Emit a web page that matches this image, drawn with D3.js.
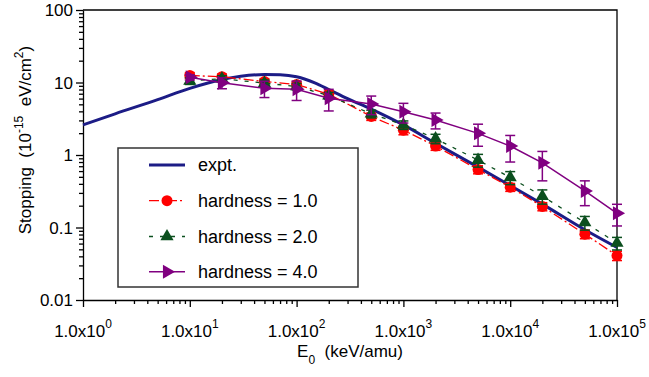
<!DOCTYPE html>
<html>
<head>
<meta charset="utf-8">
<script src="https://cdn.jsdelivr.net/npm/d3@7"></script>
<style>
body { margin: 0; background: #fff; }
text { font-family: "Liberation Sans", Arial, sans-serif; fill: #000; }
</style>
</head>
<body>
<script>
// data
var energies = [10, 20, 50, 100, 200, 500, 1000, 2000, 5000, 10000, 20000, 50000, 100000];
var hard1    = [12.5, 12.0, 10.3, 9.4, 6.9, 3.4, 2.2, 1.33, 0.63, 0.36, 0.195, 0.081, 0.041];
var hard1Err = [1.2, 1.1, 1.0, 0.9, 0.7, 0.4, 0.3, 0.17, 0.08, 0.045, 0.025, 0.011, 0.006];
var hard2    = [10.5, 11.3, 9.8, 8.8, 6.6, 3.7, 2.6, 1.68, 0.85, 0.49, 0.27, 0.117, 0.061];
var hard2Err = [1.1, 1.1, 1.0, 0.9, 0.7, 0.45, 0.35, 0.25, 0.17, 0.1, 0.06, 0.025, 0.012];
var hard4    = [11.8, 9.9, 8.3, 8.05, 6.05, 5.05, 3.96, 3.04, 1.99, 1.33, 0.78, 0.32, 0.157];
var hard4Err = [1.0, 1.7, 2.1, 2.4, 2.0, 1.45, 1.2, 0.75, 0.67, 0.53, 0.34, 0.12, 0.052];

var exptE = [1, 2, 5, 10, 20, 30, 50, 70, 100, 150, 200, 300, 500, 1000, 2000, 5000, 10000, 20000, 50000, 100000];
var exptS = [2.6, 3.7, 5.8, 8.3, 11.0, 12.2, 12.9, 12.8, 12.0, 9.8, 8.0, 6.0, 4.3, 2.6, 1.45, 0.68, 0.38, 0.21, 0.093, 0.053];

var xTickExp = [0, 1, 2, 3, 4, 5];
var yTickVals = [0.01, 0.1, 1, 10, 100];
var yTickLabels = ["0.01", "0.1", "1", "10", "100"];

var legendNames = ["expt.", "hardness = 1.0", "hardness = 2.0", "hardness = 4.0"];

var w = 649, h = 377;
var svg = d3.select("body").append("svg")
    .attr("width", w)
    .attr("height", h);

var x = d3.scaleLog().domain([1, 1e5]).range([83, 617]);
var y = d3.scaleLog().domain([0.01, 100]).range([300, 10]);

// minor tick positions: 2..9 inside each decade
var xMinor = [], yMinor = [];
for (var d = 0; d < 5; d++) {
    for (var k = 2; k < 10; k++) xMinor.push(k * Math.pow(10, d));
}
for (var d2 = -2; d2 < 2; d2++) {
    for (var k2 = 2; k2 < 10; k2++) yMinor.push(k2 * Math.pow(10, d2));
}

// frame top and right
svg.append("path")
    .attr("d", "M" + x(1) + "," + y(100) + "H" + x(1e5) + "V" + y(0.01))
    .attr("fill", "none").attr("stroke", "#000").attr("stroke-width", 1.3);

// x axis
var xAxis = svg.append("g").attr("transform", "translate(0," + y(0.01) + ")");
xAxis.call(d3.axisBottom(x).tickValues(xTickExp.map(function(e){ return Math.pow(10, e); }))
    .tickSize(7).tickSizeOuter(0).tickFormat(""));
xAxis.append("g").call(d3.axisBottom(x).tickValues(xMinor).tickSize(4).tickSizeOuter(0).tickFormat(""))
    .select(".domain").remove();
xAxis.selectAll(".domain, line").attr("stroke", "#000").attr("stroke-width", 1.3);

var xLab = svg.selectAll(".xlab").data(xTickExp).enter().append("text")
    .attr("class", "xlab")
    .attr("x", function(e){ return x(Math.pow(10, e)); })
    .attr("y", 337)
    .attr("text-anchor", "middle")
    .style("font-size", "17px");
xLab.append("tspan").text("1.0x10");
xLab.append("tspan").attr("dy", -9).style("font-size", "12px").text(function(e){ return e; });

// y axis
var yAxis = svg.append("g").attr("transform", "translate(" + x(1) + ",0)");
yAxis.call(d3.axisLeft(y).tickValues(yTickVals).tickSize(7).tickSizeOuter(0).tickFormat(""));
yAxis.append("g").call(d3.axisLeft(y).tickValues(yMinor).tickSize(4).tickSizeOuter(0).tickFormat(""))
    .select(".domain").remove();
yAxis.selectAll(".domain, line").attr("stroke", "#000").attr("stroke-width", 1.3);

svg.selectAll(".ylab").data(yTickVals).enter().append("text")
    .attr("class", "ylab")
    .attr("x", 73)
    .attr("y", function(v){ return y(v); })
    .attr("dy", "0.36em")
    .attr("text-anchor", "end")
    .style("font-size", "17px")
    .text(function(v, i){ return yTickLabels[i]; });

// axis titles
var xt = svg.append("text").attr("x", 350).attr("y", 357).attr("text-anchor", "middle").style("font-size", "17px");
xt.append("tspan").text("E");
xt.append("tspan").attr("dy", 7).style("font-size", "12px").text("0");
xt.append("tspan").attr("dy", -7).text("\u00a0 (keV/amu)");

var yt = svg.append("text").attr("transform", "translate(31,140) rotate(-90)")
    .attr("text-anchor", "middle").style("font-size", "17px");
yt.append("tspan").text("Stopping\u00a0 (10");
yt.append("tspan").attr("dy", -8).style("font-size", "12px").text("-15");
yt.append("tspan").attr("dy", 8).text("\u00a0 eV/cm");
yt.append("tspan").attr("dy", -8).style("font-size", "12px").text("2");
yt.append("tspan").attr("dy", 8).text(")");

// expt curve
var exptLine = d3.line()
    .x(function(d){ return x(d[0]); })
    .y(function(d){ return y(d[1]); })
    .curve(d3.curveMonotoneX);
svg.append("path")
    .datum(d3.zip(exptE, exptS))
    .attr("d", exptLine)
    .attr("fill", "none").attr("stroke", "#1c1c86").attr("stroke-width", 3);

var series = [
    { vals: hard1, err: hard1Err, color: "#ff0000", dash: "10,3,2,3", width: 1.3, mark: "circle" },
    { vals: hard2, err: hard2Err, color: "#0b4f1e", dash: "4,7", width: 1.3, mark: "up" },
    { vals: hard4, err: hard4Err, color: "#800080", dash: null, width: 1.5, mark: "right" }
];

var pathLine = d3.line()
    .x(function(d){ return x(d[0]); })
    .y(function(d){ return y(d[1]); });

function drawMarker(g, kind, color) {
    if (kind === "circle") {
        g.append("circle").attr("r", 5.5).attr("fill", color);
    } else if (kind === "up") {
        g.append("path").attr("d", d3.symbol().type(d3.symbolTriangle).size(75)()).attr("fill", color);
    } else {
        g.append("path").attr("d", d3.symbol().type(d3.symbolTriangle).size(85)())
            .attr("transform", "rotate(90)").attr("fill", color);
    }
}

series.forEach(function(s){
    var pts = d3.zip(energies, s.vals, s.err);
    var grp = svg.append("g");
    grp.append("path").datum(pts).attr("d", pathLine)
        .attr("fill", "none").attr("stroke", s.color).attr("stroke-width", s.width)
        .attr("stroke-dasharray", s.dash);
    // error bars
    var eb = grp.selectAll(".eb").data(pts).enter().append("g")
        .attr("transform", function(d){ return "translate(" + x(d[0]) + ",0)"; });
    eb.append("line").attr("x1", 0).attr("x2", 0)
        .attr("y1", function(d){ return y(d[1] + d[2]); })
        .attr("y2", function(d){ return y(d[1] - d[2]); })
        .attr("stroke", s.color).attr("stroke-width", 1.5);
    eb.append("line").attr("x1", -5).attr("x2", 5)
        .attr("y1", function(d){ return y(d[1] + d[2]); })
        .attr("y2", function(d){ return y(d[1] + d[2]); })
        .attr("stroke", s.color).attr("stroke-width", 1.5);
    eb.append("line").attr("x1", -5).attr("x2", 5)
        .attr("y1", function(d){ return y(d[1] - d[2]); })
        .attr("y2", function(d){ return y(d[1] - d[2]); })
        .attr("stroke", s.color).attr("stroke-width", 1.5);
    grp.selectAll(".mk").data(pts).enter().append("g")
        .attr("transform", function(d){ return "translate(" + x(d[0]) + "," + y(d[1]) + ")"; })
        .each(function(){ drawMarker(d3.select(this), s.mark, s.color); });
});

// legend
var legend = svg.append("g");
legend.append("rect").attr("x", 118).attr("y", 148).attr("width", 240).attr("height", 139)
    .attr("fill", "#fff").attr("stroke", "#333").attr("stroke-width", 1.5);
var rowY = [165, 200.7, 236.5, 271.7];
var legStyles = [{ color: "#1c1c86", dash: null, width: 3, mark: null }].concat(series);
legendNames.forEach(function(name, i){
    var st = legStyles[i];
    var r = legend.append("g").attr("transform", "translate(0," + rowY[i] + ")");
    r.append("line").attr("x1", 149).attr("x2", 185).attr("y1", 0).attr("y2", 0)
        .attr("stroke", st.color).attr("stroke-width", st.width).attr("stroke-dasharray", st.dash);
    if (st.mark) {
        var m = r.append("g").attr("transform", "translate(167,0)");
        drawMarker(m, st.mark, st.color);
    }
    r.append("text").attr("x", 198).attr("dy", "0.36em").style("font-size", "18px").text(name);
});
</script>
</body>
</html>
